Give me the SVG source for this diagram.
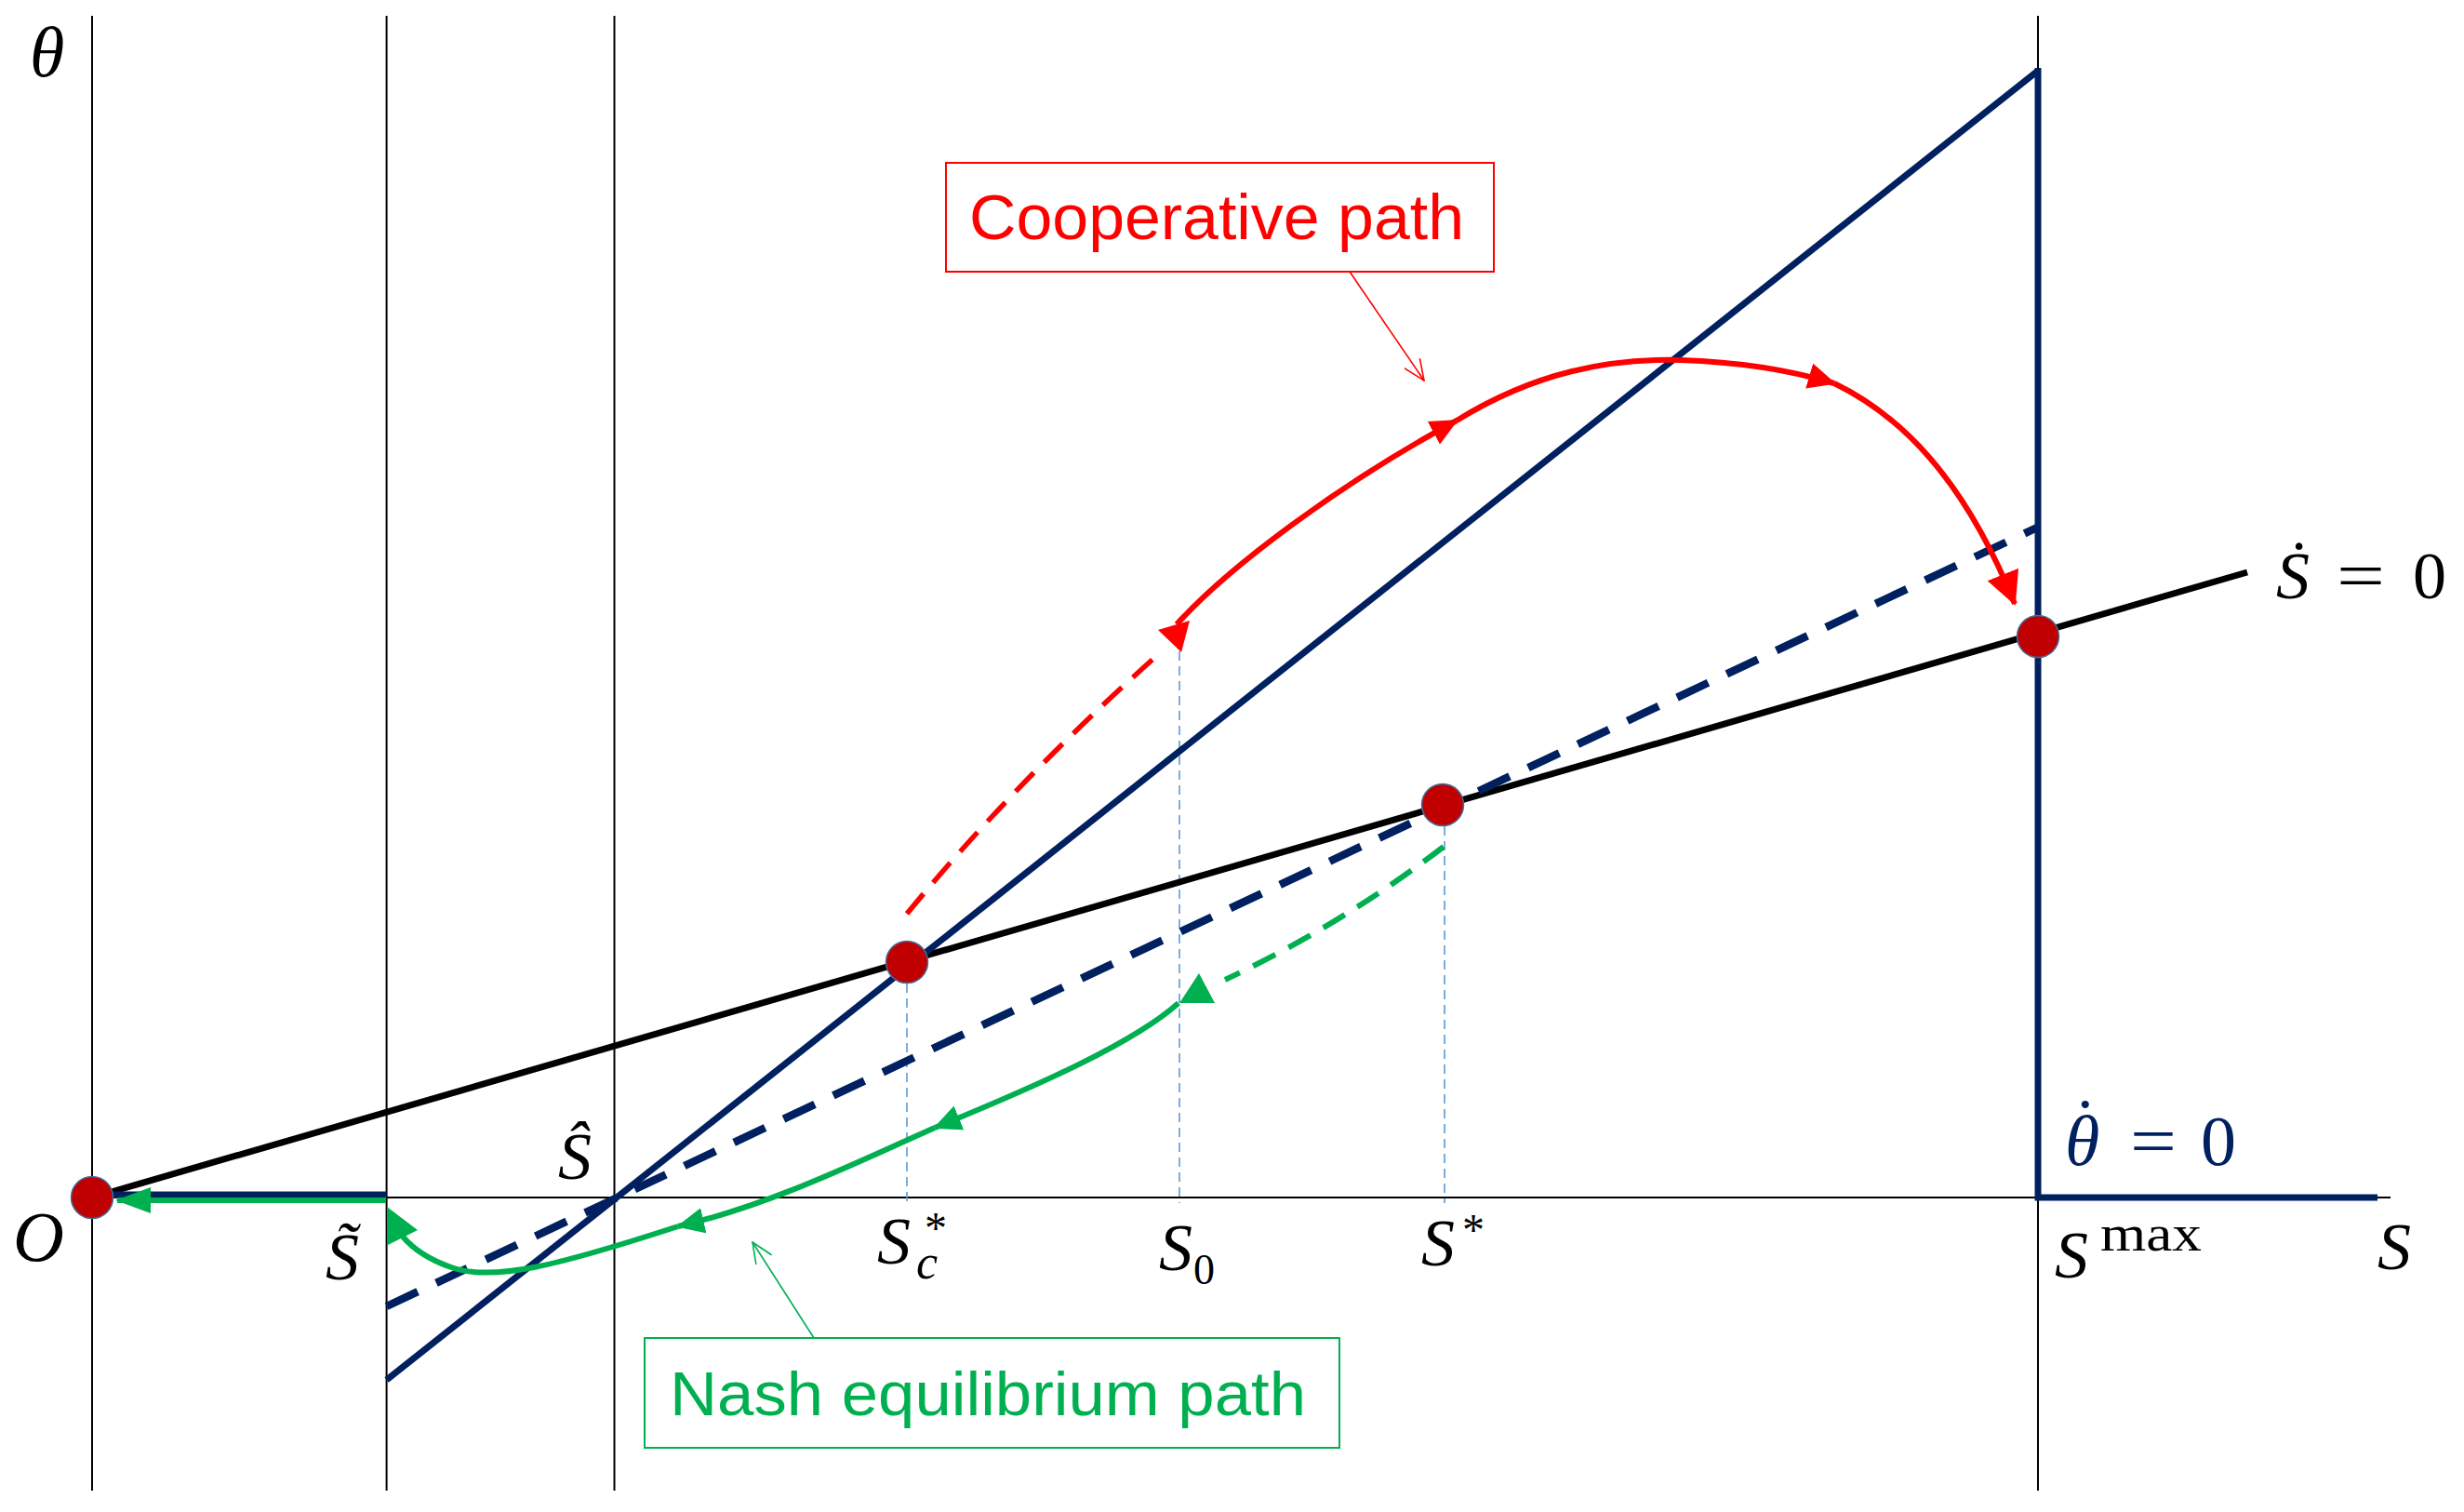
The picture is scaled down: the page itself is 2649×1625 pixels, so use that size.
<svg xmlns="http://www.w3.org/2000/svg" width="2649" height="1625" viewBox="0 0 2649 1625">
<defs>
<style>
.thin{stroke:#000;stroke-width:2;fill:none}
.guide{stroke:#5B9BD5;stroke-width:1.6;stroke-dasharray:10 6;fill:none}
.navy{stroke:#002060;stroke-width:7;fill:none}
.navyd{stroke:#002060;stroke-width:8.5;stroke-dasharray:37 22;fill:none}
.blk{stroke:#000;stroke-width:7;fill:none}
.red{stroke:#FF0000;stroke-width:6;fill:none}
.redd{stroke:#FF0000;stroke-width:5.5;stroke-dasharray:28 16;fill:none}
.grn{stroke:#00B050;stroke-width:6;fill:none}
.grnd{stroke:#00B050;stroke-width:6;stroke-dasharray:27 16;fill:none}
.dot{fill:#C00000;stroke:#41719C;stroke-width:1.5}
.math{font-family:"Liberation Serif","DejaVu Serif",serif;font-style:italic;fill:#000}
.up{font-family:"Liberation Serif","DejaVu Serif",serif;font-style:normal}
.lbl{font-family:"Liberation Sans",Arial,sans-serif}
</style>
<marker id="aR" markerUnits="userSpaceOnUse" viewBox="0 0 30 28" markerWidth="30" markerHeight="28" refX="28" refY="14" orient="auto"><path d="M0,0 L30,14 L0,28 z" fill="#FF0000"/></marker>
<marker id="aRL" markerUnits="userSpaceOnUse" viewBox="0 0 36 36" markerWidth="36" markerHeight="36" refX="34" refY="18" orient="auto"><path d="M0,0 L36,18 L0,36 z" fill="#FF0000"/></marker>
<marker id="aG" markerUnits="userSpaceOnUse" viewBox="0 0 30 28" markerWidth="30" markerHeight="28" refX="28" refY="14" orient="auto"><path d="M0,0 L30,14 L0,28 z" fill="#00B050"/></marker>
<marker id="aGL" markerUnits="userSpaceOnUse" viewBox="0 0 38 28" markerWidth="38" markerHeight="28" refX="36" refY="14" orient="auto"><path d="M0,0 L38,14 L0,28 z" fill="#00B050"/></marker>
<marker id="oR" markerUnits="userSpaceOnUse" viewBox="0 0 24 20" markerWidth="24" markerHeight="20" refX="23" refY="10" orient="auto"><path d="M0,0 L23,10 L0,20" fill="none" stroke="#FF0000" stroke-width="1.6"/></marker>
<marker id="oG" markerUnits="userSpaceOnUse" viewBox="0 0 24 20" markerWidth="24" markerHeight="20" refX="23" refY="10" orient="auto"><path d="M0,0 L23,10 L0,20" fill="none" stroke="#00B050" stroke-width="1.6"/></marker>
</defs>
<rect width="2649" height="1625" fill="#fff"/>

<g id="axes">
<line class="thin" x1="99" y1="17" x2="99" y2="1602"/>
<line class="thin" x1="415.6" y1="17" x2="415.6" y2="1602"/>
<line class="thin" x1="660.5" y1="17" x2="660.5" y2="1602"/>
<line class="thin" x1="2191" y1="17" x2="2191" y2="1602"/>
<line class="thin" x1="99" y1="1287" x2="2570" y2="1287"/>
</g>

<g id="guides">
<line class="guide" x1="975" y1="1057" x2="975" y2="1293"/>
<line class="guide" x1="1268" y1="700" x2="1268" y2="1293"/>
<line class="guide" x1="1553" y1="888" x2="1553" y2="1293"/>
</g>

<g id="loci">
<line class="blk" x1="99" y1="1287" x2="2416" y2="615"/>
<line class="navyd" x1="415.6" y1="1404" x2="2190" y2="567"/>
<line class="navy" x1="415.6" y1="1483" x2="2191" y2="76"/>
<polyline class="navy" stroke-width="8" points="2191,73 2191,1287 2556,1287"/>
<line class="navy" stroke-width="4" x1="99" y1="1284" x2="415.6" y2="1284"/>
</g>

<g id="connectors">
<path class="redd" d="M975,982 Q1092,840 1240,708"/>
<polygon points="1245,677 1279,667 1270,701" fill="#FF0000"/>
<path class="red" d="M1265,671 C1320,610 1440,520 1566,452" marker-end="url(#aR)"/>
<path class="red" d="M1566,452 C1650,400 1730,385 1807,387 C1870,389 1925,398 1972,412" marker-end="url(#aR)"/>
<path class="red" d="M1972,412 C2040,445 2110,510 2166,649" marker-end="url(#aRL)"/>
<path class="grnd" d="M1552,910 Q1442,994 1317,1053"/>
<polygon points="1268,1078 1306,1078 1289,1046" fill="#00B050"/>
<path class="grn" d="M1267,1078 C1220,1120 1120,1165 1005,1212" marker-end="url(#aG)"/>
<path class="grn" d="M1005,1212 C930,1245 830,1295 729,1318" marker-end="url(#aG)"/>
<path class="grn" d="M729,1318 C600,1360 530,1378 485,1362 C462,1354 444,1342 433,1329"/>
<polygon points="416,1297 449,1322 417,1338" fill="#00B050"/>
<path class="grn" d="M415,1290 L126,1290" marker-end="url(#aGL)"/>
<line x1="1451" y1="292" x2="1531" y2="409" stroke="#FF0000" stroke-width="1.6" marker-end="url(#oR)"/>
<line x1="875" y1="1438" x2="809" y2="1335" stroke="#00B050" stroke-width="1.6" marker-end="url(#oG)"/>
</g>

<g id="points">
<circle id="pO" class="dot" cx="99" cy="1287" r="22.5"/>
<circle id="pSc" class="dot" cx="975" cy="1034" r="22.5"/>
<circle id="pSs" class="dot" cx="1551" cy="865" r="22.5"/>
<circle id="pSmax" class="dot" cx="2191" cy="684" r="22.5"/>
</g>

<g id="labels">
<text class="math" x="32" y="82" font-size="76">θ</text>
<text class="math" x="14" y="1355" font-size="76">O</text>
<text class="math" x="350" y="1375" font-size="72">S̃</text>
<text class="math" x="600" y="1267" font-size="72">Ŝ</text>
<text class="math" font-size="72"><tspan x="943" y="1358">S</tspan><tspan class="up" x="994" y="1336" font-size="48">*</tspan><tspan x="985" y="1374" font-size="52">c</tspan></text>
<text class="math" font-size="72"><tspan x="1246" y="1365">S</tspan><tspan class="up" x="1283" y="1380" font-size="46">0</tspan></text>
<text class="math" font-size="72"><tspan x="1528" y="1360">S</tspan><tspan class="up" x="1572" y="1338" font-size="48">*</tspan></text>
<text class="math" font-size="72"><tspan x="2209" y="1373">S</tspan><tspan class="up" x="2258" y="1344" font-size="54" textLength="109" lengthAdjust="spacingAndGlyphs">max</tspan></text>
<text class="math" x="2556" y="1364" font-size="72">S</text>
<text class="math" font-size="72"><tspan x="2447" y="643">Ṡ</tspan><tspan class="up" x="2512" y="643" textLength="52" lengthAdjust="spacingAndGlyphs">=</tspan><tspan class="up" x="2594" y="643">0</tspan></text>
<text class="math" font-size="76" style="fill:#002060"><tspan x="2220" y="1252">θ</tspan><tspan class="up" x="2229" y="1233">˙</tspan><tspan class="up" x="2290" y="1252" textLength="50" lengthAdjust="spacingAndGlyphs">=</tspan><tspan class="up" x="2366" y="1252">0</tspan></text>
</g>

<g id="coop">
<rect x="1017" y="175" width="589" height="117" fill="#fff" stroke="#FF0000" stroke-width="2"/>
<text class="lbl" x="1042" y="257" font-size="68" fill="#FF0000" textLength="532" lengthAdjust="spacingAndGlyphs">Cooperative path</text>
</g>
<g id="nash">
<rect x="693" y="1438" width="747" height="118" fill="#fff" stroke="#00B050" stroke-width="2"/>
<text class="lbl" x="720" y="1521" font-size="66" fill="#00B050" textLength="684" lengthAdjust="spacingAndGlyphs">Nash equilibrium path</text>
</g>
</svg>
